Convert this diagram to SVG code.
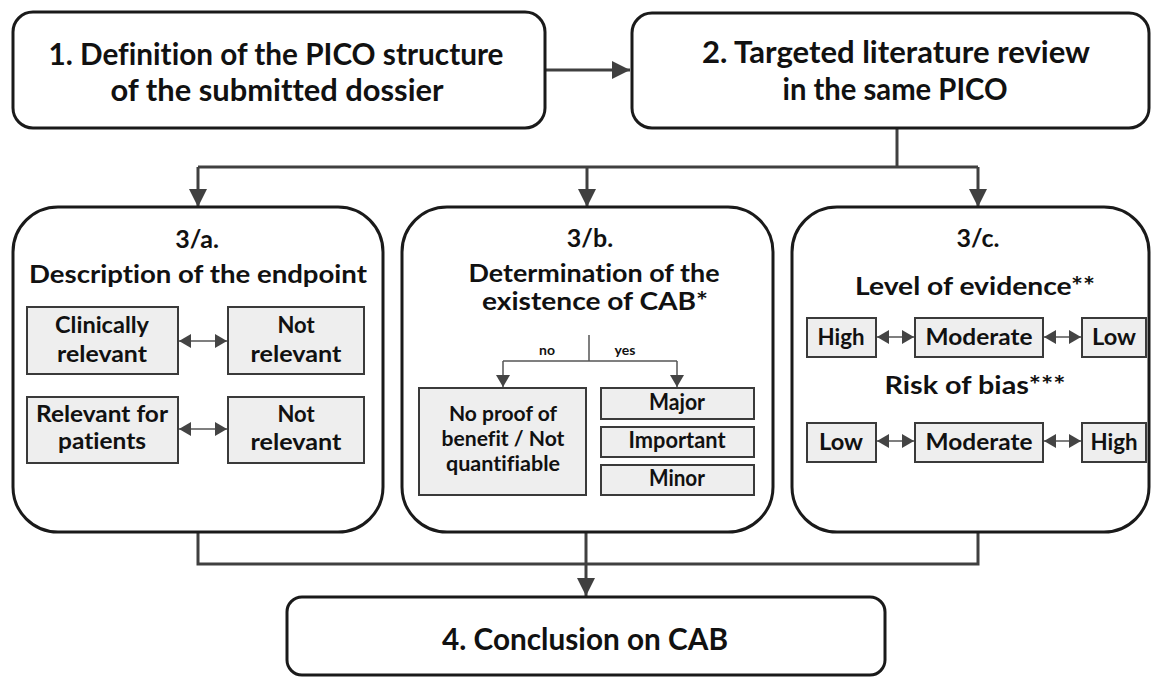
<svg xmlns="http://www.w3.org/2000/svg" width="1151" height="678" viewBox="0 0 1151 678">
<defs>
<style>
.main{fill:#fff;stroke:#1a1a1a;stroke-width:3}
.sub{fill:#eeeeee;stroke:#3a3a3a;stroke-width:2}
.t{font-family:Lato,"Open Sans","Liberation Sans",sans-serif;font-weight:bold;fill:#111;text-anchor:middle;font-variant-ligatures:none}
.big{font-size:31px}
.mid{font-size:25px}
.sm{font-size:22px}
.sm2{font-size:21px}
.xs{font-size:14px}
.con{fill:none;stroke:#404040;stroke-width:3}
.thin{fill:none;stroke:#555;stroke-width:1.5}
</style>
<marker id="ah" markerUnits="userSpaceOnUse" markerWidth="18" markerHeight="18" refX="18" refY="9" orient="auto"><path d="M0,0 L18,9 L0,18 z" fill="#404040"/></marker>
<marker id="sa" markerUnits="userSpaceOnUse" markerWidth="12" markerHeight="14" refX="12" refY="7" orient="auto-start-reverse"><path d="M0,0 L12,7 L0,14 z" fill="#444"/></marker>
</defs>
<rect width="1151" height="678" fill="#fff"/>

<g id="connectors">
<line class="con" x1="545" y1="70" x2="630" y2="70" marker-end="url(#ah)"/>
<polyline class="con" points="897,128 897,167"/>
<polyline class="con" points="198,167 978,167"/>
<line class="con" x1="198" y1="167" x2="198" y2="207" marker-end="url(#ah)"/>
<line class="con" x1="587" y1="167" x2="587" y2="207" marker-end="url(#ah)"/>
<line class="con" x1="978" y1="167" x2="978" y2="207" marker-end="url(#ah)"/>
<polyline class="con" points="198,532 198,564 978,564 978,532"/>
<line class="con" x1="586" y1="532" x2="586" y2="596" marker-end="url(#ah)"/>
</g>

<g id="n1">
<rect class="main" x="13" y="12" width="532" height="116" rx="20"/>
<text class="t big" x="276" y="65" textLength="455" lengthAdjust="spacingAndGlyphs">1. Definition of the PICO structure</text>
<text class="t big" x="277" y="101" textLength="333" lengthAdjust="spacingAndGlyphs">of the submitted dossier</text>
</g>

<g id="n2">
<rect class="main" x="632" y="13" width="517" height="115" rx="20"/>
<text class="t big" x="896" y="63" textLength="388" lengthAdjust="spacingAndGlyphs">2. Targeted literature review</text>
<text class="t big" x="895" y="100" textLength="225" lengthAdjust="spacingAndGlyphs">in the same PICO</text>
</g>

<g id="n3a">
<rect class="main" x="13" y="207" width="370" height="325" rx="45"/>
<text class="t mid" x="197" y="248">3/a.</text>
<text class="t mid" x="198" y="283" textLength="338" lengthAdjust="spacingAndGlyphs">Description of the endpoint</text>
<rect class="sub" x="27" y="307" width="151" height="67"/>
<text class="t sm" x="102" y="333" textLength="94" lengthAdjust="spacingAndGlyphs">Clinically</text>
<text class="t sm" x="102" y="362" textLength="90" lengthAdjust="spacingAndGlyphs">relevant</text>
<rect class="sub" x="228" y="307" width="136" height="67"/>
<text class="t sm" x="296" y="333">Not</text>
<text class="t sm" x="296" y="362" textLength="91" lengthAdjust="spacingAndGlyphs">relevant</text>
<rect class="sub" x="27" y="397" width="151" height="66"/>
<text class="t sm" x="102" y="422" textLength="132" lengthAdjust="spacingAndGlyphs">Relevant for</text>
<text class="t sm" x="102" y="449" textLength="88" lengthAdjust="spacingAndGlyphs">patients</text>
<rect class="sub" x="228" y="397" width="136" height="66"/>
<text class="t sm" x="296" y="422">Not</text>
<text class="t sm" x="296" y="450" textLength="91" lengthAdjust="spacingAndGlyphs">relevant</text>
<line class="thin" x1="179" y1="341" x2="227" y2="341" marker-start="url(#sa)" marker-end="url(#sa)"/>
<line class="thin" x1="179" y1="429" x2="227" y2="429" marker-start="url(#sa)" marker-end="url(#sa)"/>
</g>

<g id="n3b">
<rect class="main" x="402" y="207" width="371" height="325" rx="45"/>
<text class="t mid" x="590" y="247">3/b.</text>
<text class="t mid" x="594" y="282" textLength="251" lengthAdjust="spacingAndGlyphs">Determination of the</text>
<text class="t mid" x="595" y="310" textLength="226" lengthAdjust="spacingAndGlyphs">existence of CAB*</text>
<polyline class="thin" points="589,335 589,361"/>
<polyline class="thin" points="503,361 677,361"/>
<line class="thin" x1="503" y1="361" x2="503" y2="387" marker-end="url(#sa)"/>
<line class="thin" x1="677" y1="361" x2="677" y2="387" marker-end="url(#sa)"/>
<text class="t xs" x="547" y="355">no</text>
<text class="t xs" x="625" y="355">yes</text>
<rect class="sub" x="419" y="388" width="167" height="107"/>
<text class="t sm2" x="503" y="421" textLength="108" lengthAdjust="spacingAndGlyphs">No proof of</text>
<text class="t sm2" x="503" y="446" textLength="123" lengthAdjust="spacingAndGlyphs">benefit / Not</text>
<text class="t sm2" x="503" y="471" textLength="114" lengthAdjust="spacingAndGlyphs">quantifiable</text>
<rect class="sub" x="601" y="388" width="153" height="31"/>
<text class="t sm" x="677" y="410" textLength="56" lengthAdjust="spacingAndGlyphs">Major</text>
<rect class="sub" x="601" y="427" width="153" height="30"/>
<text class="t sm" x="677" y="448" textLength="97" lengthAdjust="spacingAndGlyphs">Important</text>
<rect class="sub" x="601" y="465" width="153" height="30"/>
<text class="t sm" x="677" y="486" textLength="56" lengthAdjust="spacingAndGlyphs">Minor</text>
</g>

<g id="n3c">
<rect class="main" x="792" y="207" width="357" height="325" rx="45"/>
<text class="t mid" x="978" y="247">3/c.</text>
<text class="t mid" x="975" y="295" textLength="240" lengthAdjust="spacingAndGlyphs">Level of evidence**</text>
<rect class="sub" x="807" y="318" width="69" height="39"/>
<text class="t sm" x="841" y="345" textLength="47" lengthAdjust="spacingAndGlyphs">High</text>
<rect class="sub" x="915" y="318" width="128" height="39"/>
<text class="t sm" x="979" y="345" textLength="107" lengthAdjust="spacingAndGlyphs">Moderate</text>
<rect class="sub" x="1082" y="318" width="64" height="39"/>
<text class="t sm" x="1114" y="345" textLength="44" lengthAdjust="spacingAndGlyphs">Low</text>
<line class="thin" x1="877" y1="337" x2="914" y2="337" marker-start="url(#sa)" marker-end="url(#sa)"/>
<line class="thin" x1="1044" y1="337" x2="1081" y2="337" marker-start="url(#sa)" marker-end="url(#sa)"/>
<text class="t mid" x="975" y="394" textLength="181" lengthAdjust="spacingAndGlyphs">Risk of bias***</text>
<rect class="sub" x="807" y="423" width="69" height="39"/>
<text class="t sm" x="841" y="450" textLength="44" lengthAdjust="spacingAndGlyphs">Low</text>
<rect class="sub" x="915" y="423" width="128" height="39"/>
<text class="t sm" x="979" y="450" textLength="107" lengthAdjust="spacingAndGlyphs">Moderate</text>
<rect class="sub" x="1082" y="423" width="64" height="39"/>
<text class="t sm" x="1114" y="450" textLength="47" lengthAdjust="spacingAndGlyphs">High</text>
<line class="thin" x1="877" y1="441" x2="914" y2="441" marker-start="url(#sa)" marker-end="url(#sa)"/>
<line class="thin" x1="1044" y1="441" x2="1081" y2="441" marker-start="url(#sa)" marker-end="url(#sa)"/>
</g>

<g id="n4">
<rect class="main" x="287" y="597" width="598" height="78" rx="15"/>
<text class="t big" x="585" y="650" textLength="286" lengthAdjust="spacingAndGlyphs">4. Conclusion on CAB</text>
</g>
</svg>
